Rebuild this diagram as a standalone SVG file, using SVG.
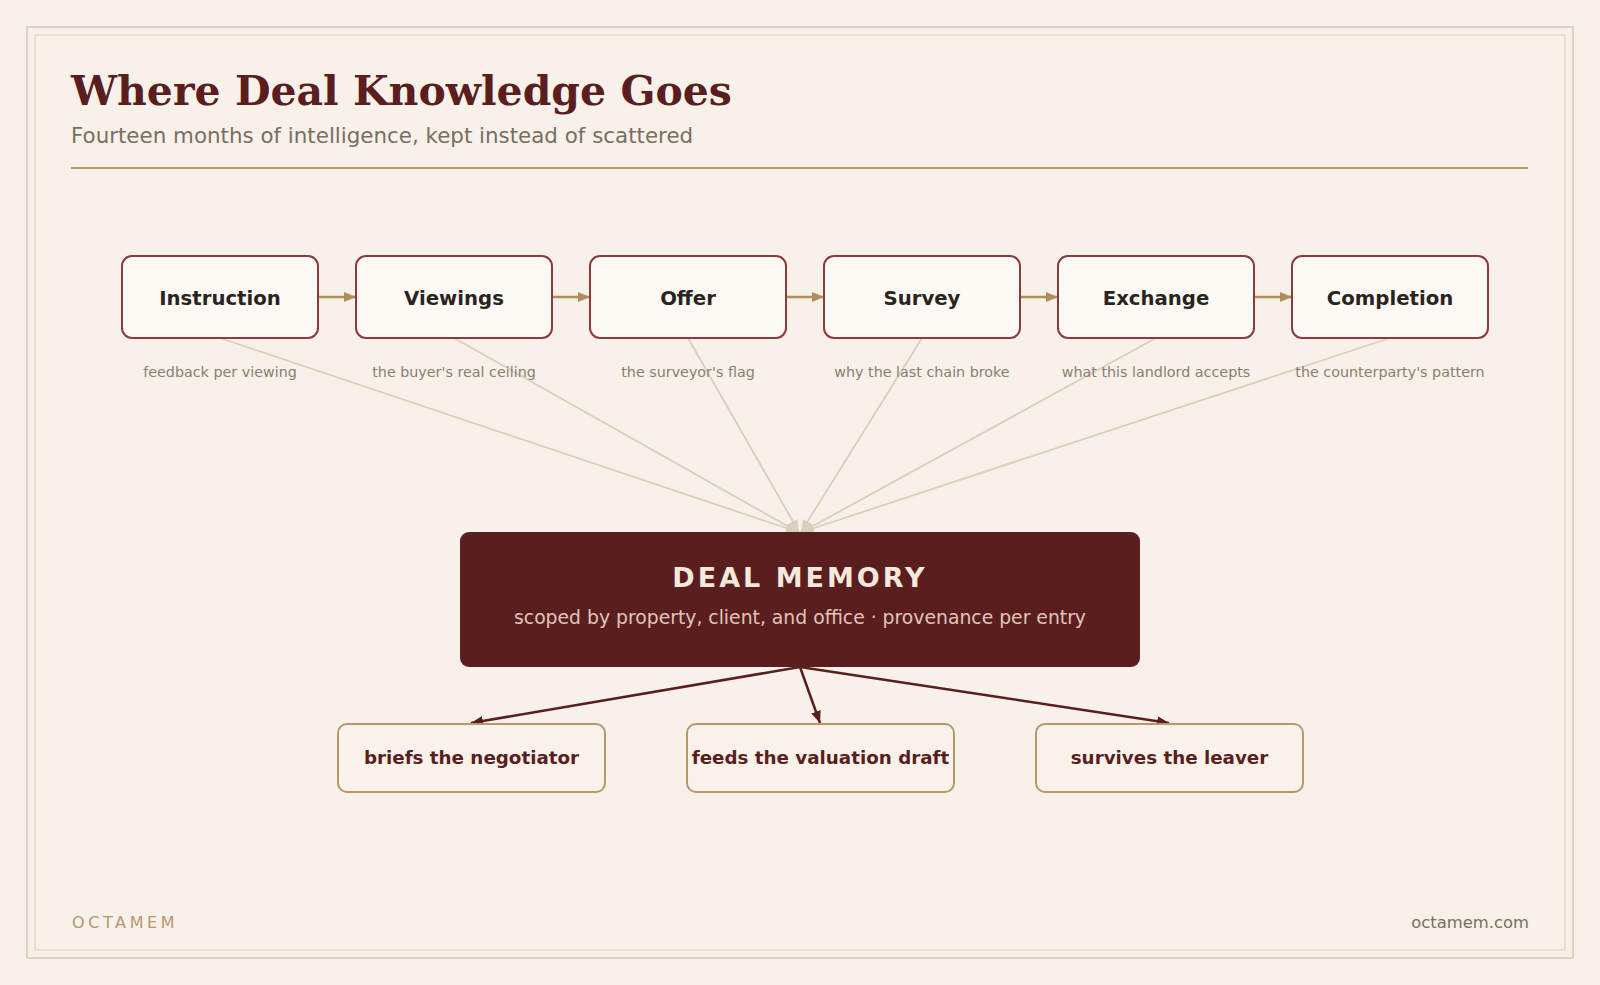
<svg xmlns="http://www.w3.org/2000/svg" width="1600" height="985" viewBox="0 0 1600 985">
  <defs>
    <marker id="arrGold" viewBox="0 0 12 10" refX="12" refY="5" markerWidth="12" markerHeight="10" markerUnits="userSpaceOnUse" orient="auto">
      <path d="M0,0 L12,5 L0,10 Z" fill="#b08d5a"/>
    </marker>
    <marker id="arrFan" viewBox="0 0 12 10" refX="12" refY="5" markerWidth="12" markerHeight="10" markerUnits="userSpaceOnUse" orient="auto">
      <path d="M0,0 L12,5 L0,10 Z" fill="#d9cfbd"/>
    </marker>
    <marker id="arrRed" viewBox="0 0 12 10" refX="12" refY="5" markerWidth="12" markerHeight="10" markerUnits="userSpaceOnUse" orient="auto">
      <path d="M0,0 L12,5 L0,10 Z" fill="#5a1e1f"/>
    </marker>
    <style>
      .sans { font-family: "DejaVu Sans", "Liberation Sans", sans-serif; }
      .stage rect { fill: #fdfaf6; stroke: #8b3a3e; stroke-width: 2; }
      .stage .label { font-size: 19.7px; font-weight: bold; fill: #2a2420; text-anchor: middle; }
      .stage .note { font-size: 14.3px; font-weight: normal; fill: #8a7e72; text-anchor: middle; }
      .flow { stroke: #b08d5a; stroke-width: 2.5; fill: none; marker-end: url(#arrGold); }
      .fan { stroke: #d9cfbd; stroke-width: 1.8; fill: none; marker-end: url(#arrFan); }
      .out { stroke: #5a1e1f; stroke-width: 2.5; fill: none; marker-end: url(#arrRed); }
      .use rect { fill: #f8f2ea; stroke: #b8976a; stroke-width: 2; }
      .use text { font-size: 18.3px; font-weight: bold; fill: #5a1e1f; text-anchor: middle; }
    </style>
  </defs>

  <rect x="0" y="0" width="1600" height="985" fill="#f7f1e9"/>
  <rect x="27" y="27" width="1546" height="931" fill="none" stroke="#ddd3c0" stroke-width="2"/>
  <rect x="35" y="35" width="1530" height="915" fill="none" stroke="#e2d9c8" stroke-width="1.5"/>

  <g id="header">
    <text x="71" y="105" font-family="DejaVu Serif, Liberation Serif, serif" font-weight="bold" font-size="41" fill="#5a1e1f">Where Deal Knowledge Goes</text>
    <text class="sans" x="71" y="143" font-size="21.4" fill="#7a6e62">Fourteen months of intelligence, kept instead of scattered</text>
    <line x1="71" y1="168" x2="1528" y2="168" stroke="#b8976a" stroke-width="2"/>
  </g>

  <g id="connectors">
    <line class="flow" x1="318" y1="297" x2="356" y2="297"/>
    <line class="flow" x1="552" y1="297" x2="590" y2="297"/>
    <line class="flow" x1="786" y1="297" x2="824" y2="297"/>
    <line class="flow" x1="1020" y1="297" x2="1058" y2="297"/>
    <line class="flow" x1="1254" y1="297" x2="1292" y2="297"/>

    <line class="fan" x1="220" y1="338" x2="798" y2="532"/>
    <line class="fan" x1="454" y1="338" x2="798" y2="532"/>
    <line class="fan" x1="688" y1="338" x2="799" y2="532"/>
    <line class="fan" x1="922" y1="338" x2="801" y2="532"/>
    <line class="fan" x1="1156" y1="338" x2="802" y2="532"/>
    <line class="fan" x1="1390" y1="338" x2="802" y2="532"/>

    <line class="out" x1="800" y1="667" x2="471" y2="723"/>
    <line class="out" x1="800" y1="667" x2="820" y2="723"/>
    <line class="out" x1="800" y1="667" x2="1169" y2="723"/>
  </g>

  <g id="stage-instruction" class="stage sans">
    <rect x="122" y="256" width="196" height="82" rx="10"/>
    <text class="label" x="220" y="305">Instruction</text>
    <text class="note" x="220" y="377">feedback per viewing</text>
  </g>
  <g id="stage-viewings" class="stage sans">
    <rect x="356" y="256" width="196" height="82" rx="10"/>
    <text class="label" x="454" y="305">Viewings</text>
    <text class="note" x="454" y="377">the buyer's real ceiling</text>
  </g>
  <g id="stage-offer" class="stage sans">
    <rect x="590" y="256" width="196" height="82" rx="10"/>
    <text class="label" x="688" y="305">Offer</text>
    <text class="note" x="688" y="377">the surveyor's flag</text>
  </g>
  <g id="stage-survey" class="stage sans">
    <rect x="824" y="256" width="196" height="82" rx="10"/>
    <text class="label" x="922" y="305">Survey</text>
    <text class="note" x="922" y="377">why the last chain broke</text>
  </g>
  <g id="stage-exchange" class="stage sans">
    <rect x="1058" y="256" width="196" height="82" rx="10"/>
    <text class="label" x="1156" y="305">Exchange</text>
    <text class="note" x="1156" y="377">what this landlord accepts</text>
  </g>
  <g id="stage-completion" class="stage sans">
    <rect x="1292" y="256" width="196" height="82" rx="10"/>
    <text class="label" x="1390" y="305">Completion</text>
    <text class="note" x="1390" y="377">the counterparty's pattern</text>
  </g>

  <g id="deal-memory" class="sans">
    <rect x="460" y="532" width="680" height="135" rx="9" fill="#5a1e1f"/>
    <text x="800" y="587" font-size="27" font-weight="bold" letter-spacing="3" fill="#f5e8dc" text-anchor="middle">DEAL MEMORY</text>
    <text x="800" y="624" font-size="18.8" fill="#e0c4b8" text-anchor="middle">scoped by property, client, and office · provenance per entry</text>
  </g>

  <g id="use-negotiator" class="use sans">
    <rect x="338" y="724" width="267" height="68" rx="9"/>
    <text x="471.5" y="764">briefs the negotiator</text>
  </g>
  <g id="use-valuation" class="use sans">
    <rect x="687" y="724" width="267" height="68" rx="9"/>
    <text x="820.5" y="764">feeds the valuation draft</text>
  </g>
  <g id="use-leaver" class="use sans">
    <rect x="1036" y="724" width="267" height="68" rx="9"/>
    <text x="1169.5" y="764">survives the leaver</text>
  </g>

  <g id="footer" class="sans">
    <text x="72" y="928" font-size="16" letter-spacing="3.6" fill="#b8976a">OCTAMEM</text>
    <text x="1529" y="928" font-size="16.4" fill="#7a6e62" text-anchor="end">octamem.com</text>
  </g>
</svg>
